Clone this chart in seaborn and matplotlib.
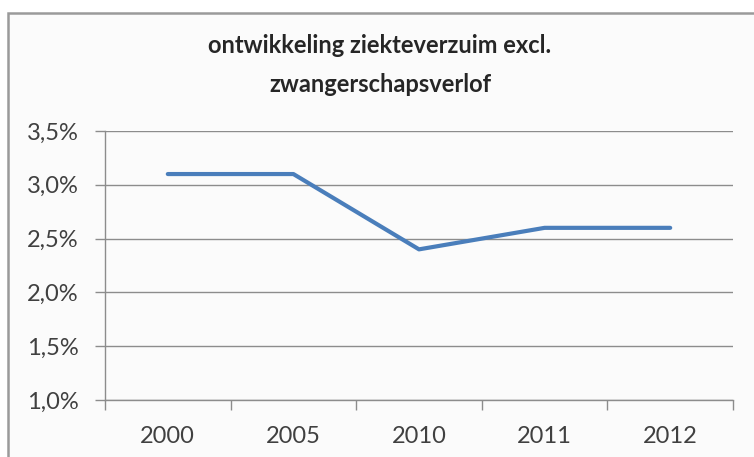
import matplotlib
matplotlib.use('Agg')
import matplotlib.pyplot as plt
from matplotlib.patches import Rectangle
from matplotlib.ticker import FixedLocator, FuncFormatter
import pandas as pd
import seaborn as sns

# Data
years = ['2000', '2005', '2010', '2011', '2012']
verzuim = [3.1, 3.1, 2.4, 2.6, 2.6]
title = 'ontwikkeling ziekteverzuim excl.\nzwangerschapsverlof'

df = pd.DataFrame({'jaar': years, 'verzuim': verzuim})

sns.set_style('white')
plt.rcParams['font.family'] = ['Lato', 'DejaVu Sans']

W, H = 754, 457
fig = plt.figure(figsize=(W / 100, H / 100), dpi=100)
fig.patch.set_facecolor('white')

# chart area border (Excel style), cut off at right and bottom
fig.patches.append(Rectangle((8 / W, -0.05), 1.0, 1 - 13 / H + 0.05,
                             transform=fig.transFigure, facecolor='#fbfbfb',
                             edgecolor='#9a9a9a', linewidth=1.8, zorder=-10))

ax = fig.add_axes([105 / W, 1 - 400 / H, (733 - 105) / W, (400 - 131) / H])
ax.set_facecolor('none')
ax.set_zorder(5)

sns.lineplot(data=df, x='jaar', y='verzuim', color='#4a7ebb', linewidth=3.0,
             sort=False, ax=ax)

ax.set_xlim(-0.5, len(years) - 0.5)
ax.set_ylim(1.0, 3.5)
ax.set_yticks([1.0, 1.5, 2.0, 2.5, 3.0, 3.5])
ax.yaxis.set_major_formatter(FuncFormatter(lambda v, p: f'{v:.1f}%'.replace('.', ',')))
ax.yaxis.grid(True, color='#8c8c8c', linewidth=1.0)
ax.set_axisbelow(True)

# category labels centered, tick marks between categories
ax.set_xticks(range(len(years)))
ax.set_xticklabels(years)
ax.xaxis.set_minor_locator(FixedLocator([i - 0.5 for i in range(len(years) + 1)]))
ax.tick_params(axis='x', which='major', length=0, pad=19, labelsize=17, labelcolor='#404040')
ax.tick_params(axis='x', which='minor', length=7, width=1.0, color='#8c8c8c', direction='out')
ax.tick_params(axis='y', length=7, width=1.0, color='#8c8c8c', direction='out',
               pad=12, labelsize=17, labelcolor='#404040')
ax.tick_params(bottom=True, left=True, which='both')

for side in ['top', 'right']:
    ax.spines[side].set_visible(False)
for side in ['left', 'bottom']:
    ax.spines[side].set_color('#8c8c8c')
    ax.spines[side].set_linewidth(1.0)

ax.set_xlabel('')
ax.set_ylabel('')

fig.text(380 / W, 1 - 65 / H, title, ha='center', va='center', fontsize=17,
         fontweight='bold', color='#262626', linespacing=1.8)

plt.savefig('out.png', dpi=100)
